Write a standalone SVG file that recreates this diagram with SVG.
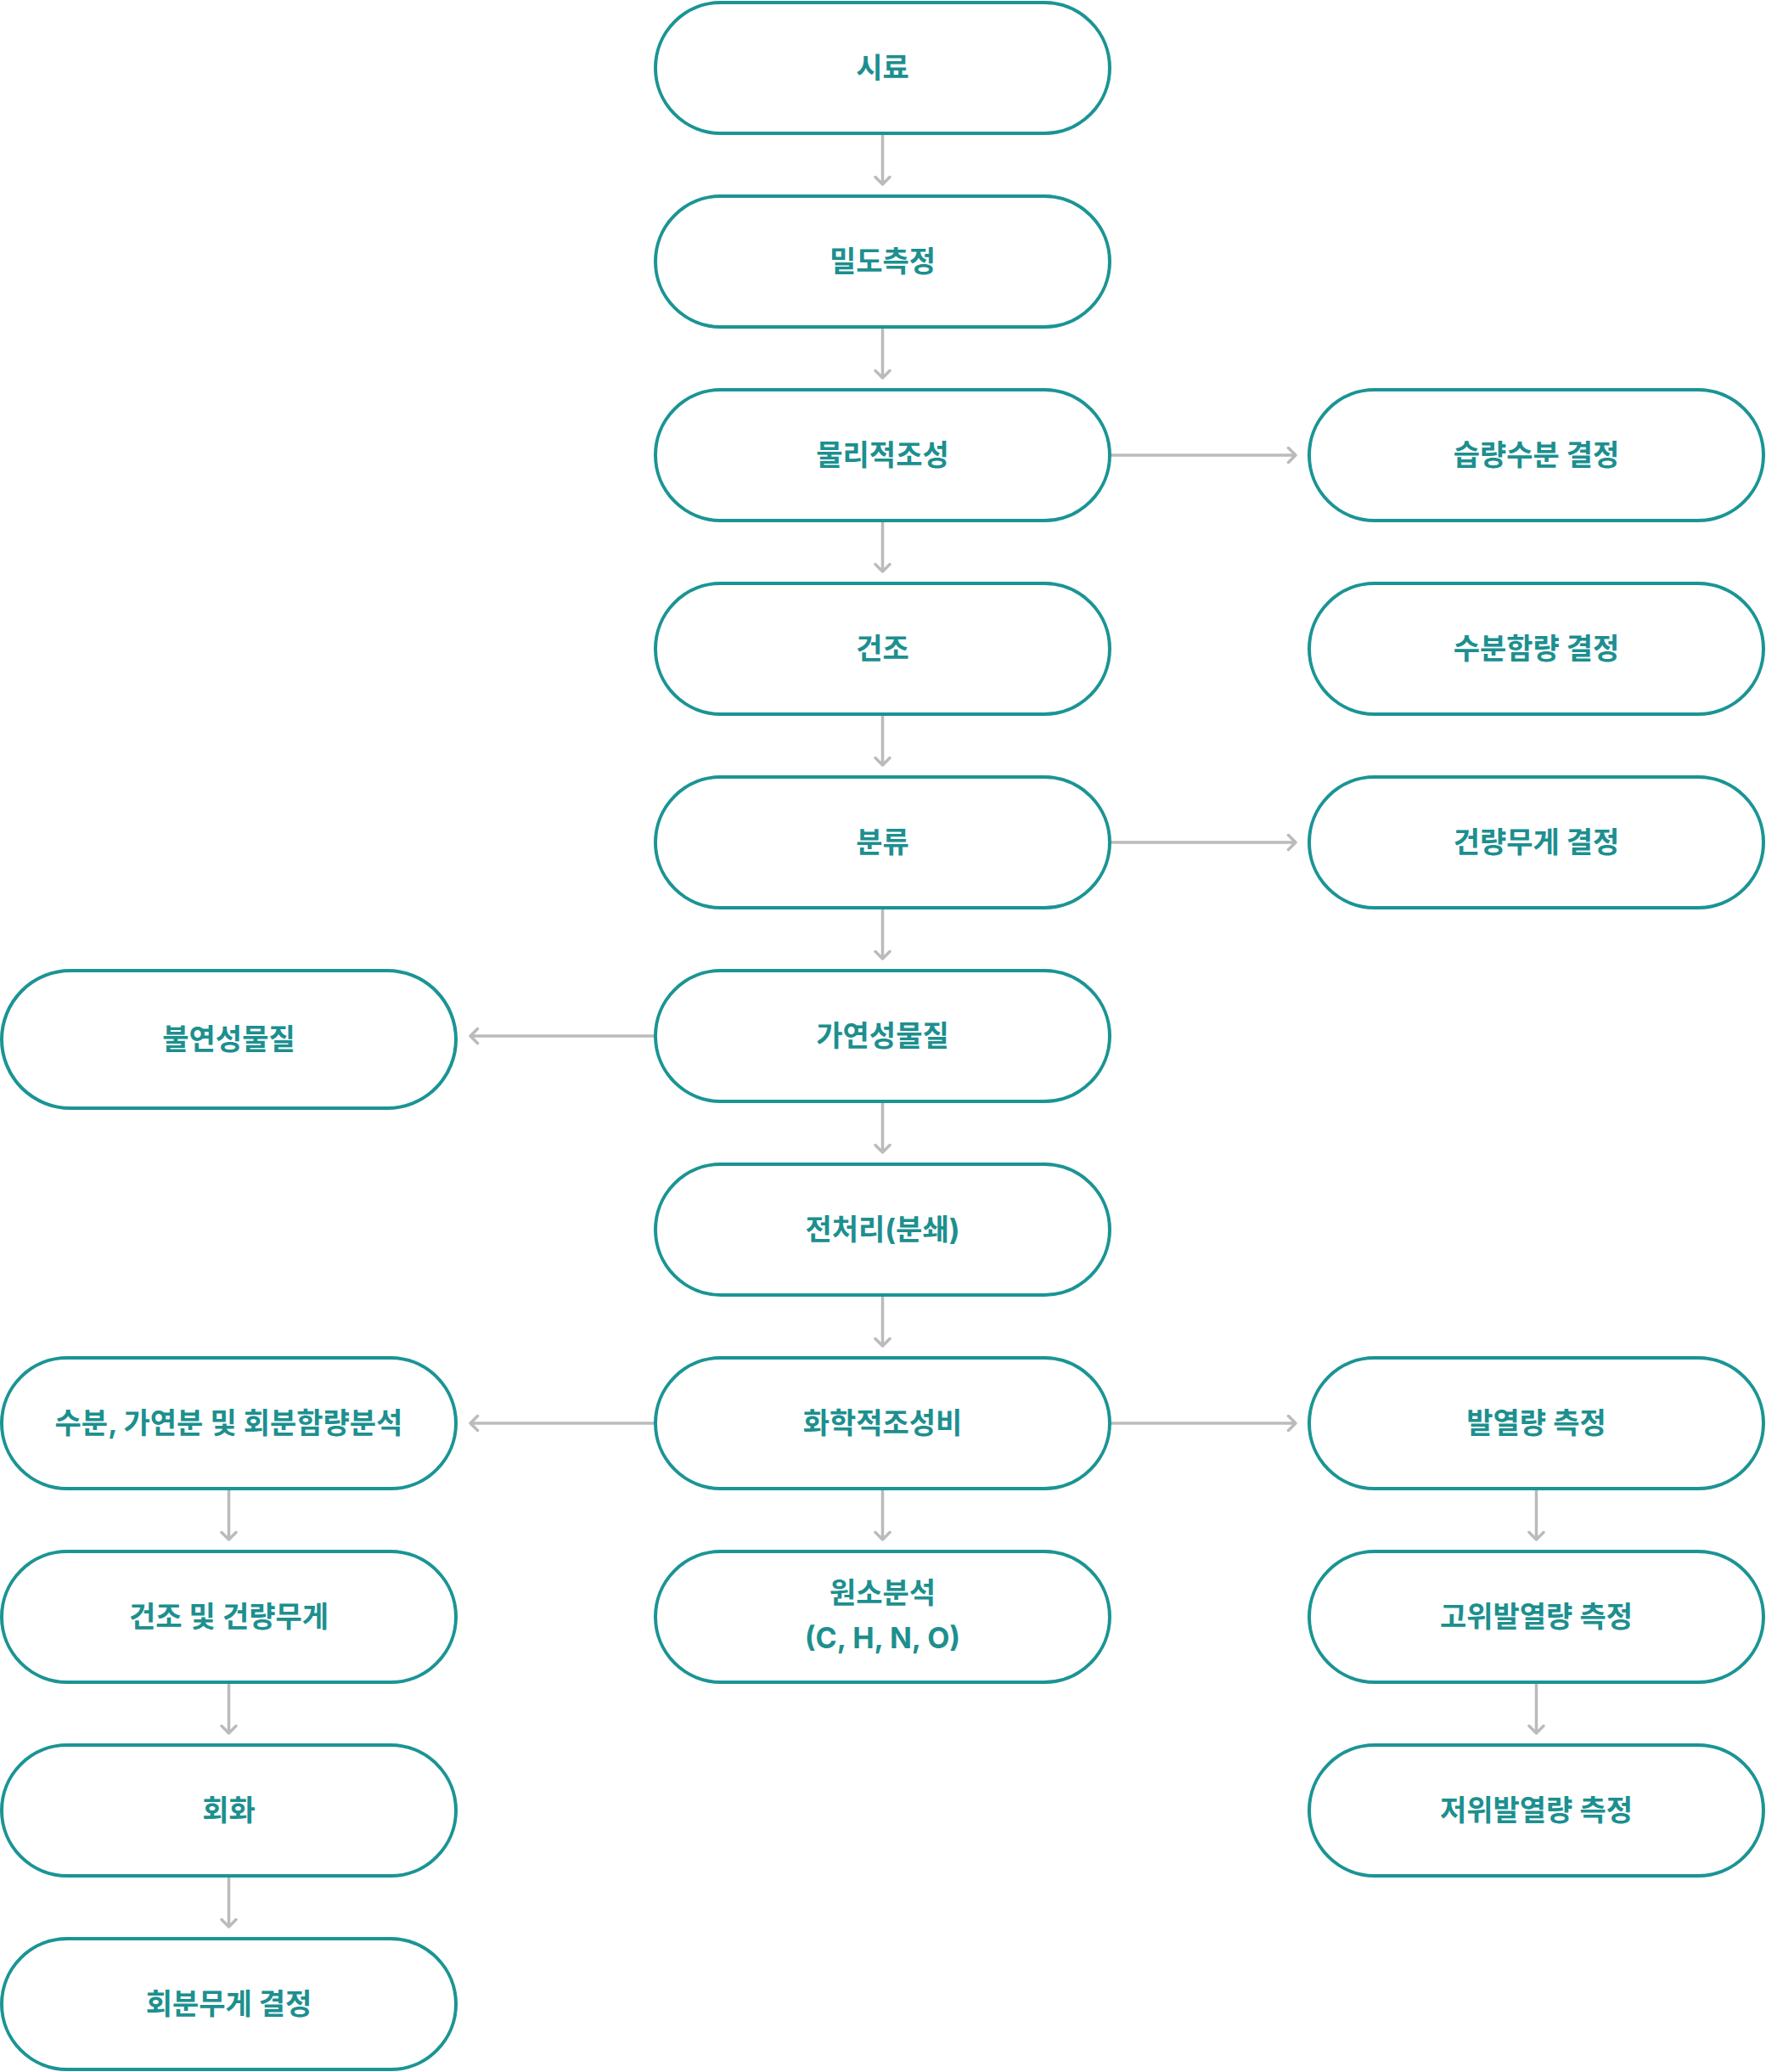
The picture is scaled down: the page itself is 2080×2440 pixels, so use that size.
<svg xmlns="http://www.w3.org/2000/svg" width="2080" height="2440" viewBox="0 0 2080 2440">
<style>
.n rect{fill:#fff;stroke:#1b9494;stroke-width:4}
.n text{font-family:Inter,"Noto Sans CJK KR","Noto Sans",sans-serif;font-weight:700;font-size:34px;fill:#1d8f8f;text-anchor:middle}
.c path{fill:none;stroke:#bbbbbb;stroke-width:3.5;stroke-linecap:round;stroke-linejoin:round}
</style>
<rect width="2080" height="2440" fill="#fff"/>
<g class="c" id="connectors">
<path d="M1039.5 157V217M1031 208.5L1039.5 217L1048 208.5"/>
<path d="M1039.5 385V445M1031 436.5L1039.5 445L1048 436.5"/>
<path d="M1039.5 613V673M1031 664.5L1039.5 673L1048 664.5"/>
<path d="M1039.5 841V901M1031 892.5L1039.5 901L1048 892.5"/>
<path d="M1039.5 1069V1129M1031 1120.5L1039.5 1129L1048 1120.5"/>
<path d="M1039.5 1297V1357M1031 1348.5L1039.5 1357L1048 1348.5"/>
<path d="M1039.5 1525V1585M1031 1576.5L1039.5 1585L1048 1576.5"/>
<path d="M1039.5 1753V1813M1031 1804.5L1039.5 1813L1048 1804.5"/>
<path d="M1307 536H1526M1517.5 527.5L1526 536L1517.5 544.5"/>
<path d="M1307 992H1526M1517.5 983.5L1526 992L1517.5 1000.5"/>
<path d="M772 1220H554M562.5 1211.5L554 1220L562.5 1228.5"/>
<path d="M772 1676H554M562.5 1667.5L554 1676L562.5 1684.5"/>
<path d="M1307 1676H1526M1517.5 1667.5L1526 1676L1517.5 1684.5"/>
<path d="M269.5 1753V1813M261 1804.5L269.5 1813L278 1804.5"/>
<path d="M269.5 1981V2041M261 2032.5L269.5 2041L278 2032.5"/>
<path d="M269.5 2209V2269M261 2260.5L269.5 2269L278 2260.5"/>
<path d="M1809.5 1753V1813M1801 1804.5L1809.5 1813L1818 1804.5"/>
<path d="M1809.5 1981V2041M1801 2032.5L1809.5 2041L1818 2032.5"/>
</g>
<g class="n" id="n1"><rect x="772" y="3" width="535" height="154" rx="77"/><text x="1039.5" y="92">시료</text></g>
<g class="n" id="n2"><rect x="772" y="231" width="535" height="154" rx="77"/><text x="1039.5" y="320">밀도측정</text></g>
<g class="n" id="n3"><rect x="772" y="459" width="535" height="154" rx="77"/><text x="1039.5" y="548">물리적조성</text></g>
<g class="n" id="n4"><rect x="772" y="687" width="535" height="154" rx="77"/><text x="1039.5" y="776">건조</text></g>
<g class="n" id="n5"><rect x="772" y="915" width="535" height="154" rx="77"/><text x="1039.5" y="1004">분류</text></g>
<g class="n" id="n6"><rect x="772" y="1143" width="535" height="154" rx="77"/><text x="1039.5" y="1232">가연성물질</text></g>
<g class="n" id="n7"><rect x="772" y="1371" width="535" height="154" rx="77"/><text x="1039.5" y="1460">전처리(분쇄)</text></g>
<g class="n" id="n8"><rect x="772" y="1599" width="535" height="154" rx="77"/><text x="1039.5" y="1688">화학적조성비</text></g>
<g class="n" id="n9"><rect x="772" y="1827" width="535" height="154" rx="77"/><text x="1039.5" y="1888">원소분석</text><text x="1039.5" y="1941">(C, H, N, O)</text></g>
<g class="n" id="r1"><rect x="1542" y="459" width="535" height="154" rx="77"/><text x="1809.5" y="548">습량수분 결정</text></g>
<g class="n" id="r2"><rect x="1542" y="687" width="535" height="154" rx="77"/><text x="1809.5" y="776">수분함량 결정</text></g>
<g class="n" id="r3"><rect x="1542" y="915" width="535" height="154" rx="77"/><text x="1809.5" y="1004">건량무게 결정</text></g>
<g class="n" id="r4"><rect x="1542" y="1599" width="535" height="154" rx="77"/><text x="1809.5" y="1688">발열량 측정</text></g>
<g class="n" id="r5"><rect x="1542" y="1827" width="535" height="154" rx="77"/><text x="1809.5" y="1916">고위발열량 측정</text></g>
<g class="n" id="r6"><rect x="1542" y="2055" width="535" height="154" rx="77"/><text x="1809.5" y="2144">저위발열량 측정</text></g>
<g class="n" id="l1"><rect x="2" y="1143" width="535" height="162" rx="81"/><text x="269.5" y="1236">불연성물질</text></g>
<g class="n" id="l2"><rect x="2" y="1599" width="535" height="154" rx="77"/><text x="269.5" y="1688">수분, 가연분 및 회분함량분석</text></g>
<g class="n" id="l3"><rect x="2" y="1827" width="535" height="154" rx="77"/><text x="269.5" y="1916">건조 및 건량무게</text></g>
<g class="n" id="l4"><rect x="2" y="2055" width="535" height="154" rx="77"/><text x="269.5" y="2144">회화</text></g>
<g class="n" id="l5"><rect x="2" y="2283" width="535" height="154" rx="77"/><text x="269.5" y="2372">회분무게 결정</text></g>
</svg>
